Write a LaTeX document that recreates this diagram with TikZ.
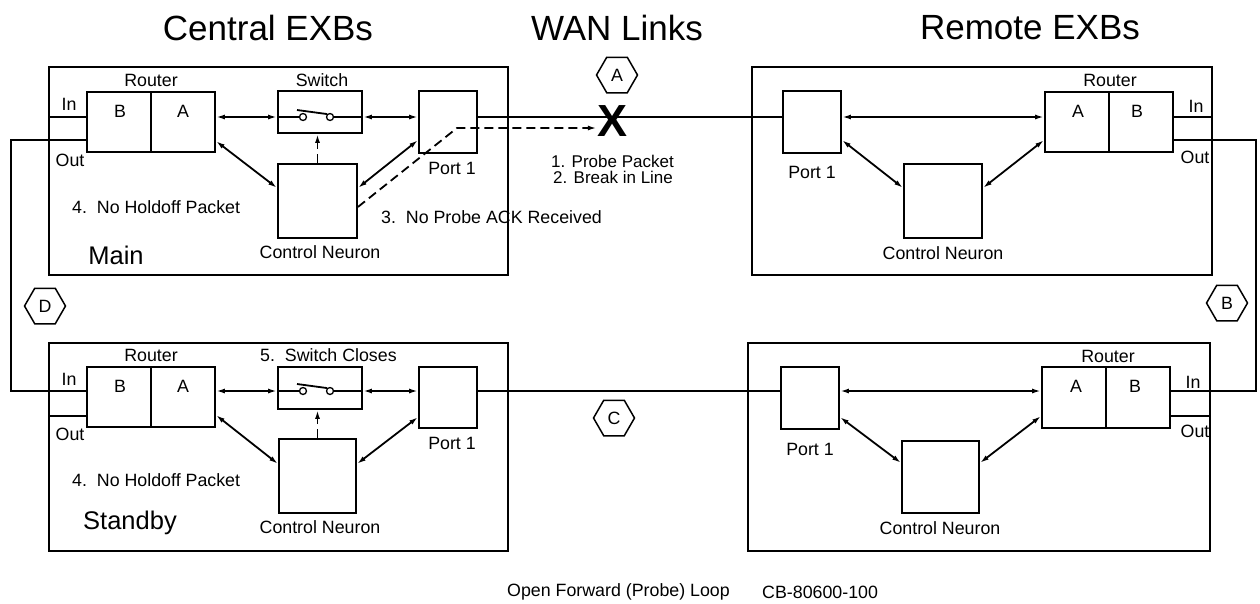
\documentclass[tikz,border=0pt]{standalone}
\usepackage{fontspec}
\setmainfont{Liberation Sans}
\usetikzlibrary{arrows.meta,shapes.geometric,calc}
\begin{document}
\begin{tikzpicture}[x=1pt,y=-1pt,
  lbl/.style={font=\fontsize{17.8}{20}\selectfont, inner sep=0pt},
  ttl/.style={font=\fontsize{35}{38}\selectfont, inner sep=0pt},
  nm/.style={font=\fontsize{25.5}{28}\selectfont, inner sep=0pt},
  blk/.style={draw, line width=1.8pt, inner sep=0pt, rectangle},
  conn/.style={line width=1.8pt},
  tip/.tip={Latex[length=9pt,width=5pt]},
  dbl/.style={line width=1.8pt, tip-tip},
  dsh/.style={line width=1.8pt, dash pattern=on 9pt off 5pt},
  hex/.style={draw, line width=1.5pt, regular polygon, regular polygon sides=6,
    minimum size=41pt, inner sep=0pt, font=\fontsize{17.8}{20}\selectfont},
  contact/.style={circle, draw, fill=white, line width=1.3pt, minimum size=7pt, inner sep=0pt}]
\useasboundingbox (0,0) rectangle (1260,603);
\coordinate (Ltop) at (0,117);
\coordinate (Lbot) at (0,391);
\coordinate (Otop) at (0,140);
\coordinate (Obot) at (0,416);
\coordinate (busL) at (11,0);
\coordinate (busR) at (1256,0);

% titles
\node[ttl] (tC) at (268,28) {Central EXBs};
\node[ttl] (tW) at (617,28) {WAN Links};
\node[ttl] (tR) at (1030,28) {Remote EXBs};

% ---------------- Main (central top)
\node[blk, minimum width=459pt, minimum height=208pt] (mMain) at (278.5,171) {};
\node[blk, minimum width=128pt, minimum height=60pt] (mR) at (151,122) {};
\draw[conn] (mR.north) -- (mR.south);
\node[blk, minimum width=84pt, minimum height=42pt] (mS) at (320,112) {};
\node[blk, minimum width=58pt, minimum height=62pt] (mP) at (448,122) {};
\node[blk, minimum width=79pt, minimum height=74pt] (mC) at (317.5,201) {};
\node[lbl] (mRl) at (151,80) {Router};
\node[lbl] (mB) at (120,111) {B};
\node[lbl] (mA) at (183,111) {A};
\node[lbl] (mSl) at (322,80) {Switch};
\node[lbl] (mPl) at (452,168) {Port 1};
\node[lbl] (mCl) at (320,252) {Control Neuron};
\node[lbl] (mIn) at (69,104) {In};
\node[lbl] (mOut) at (70,160) {Out};
\node[lbl, anchor=west] (mH) at (72,207) {4.\ \ No Holdoff Packet};
\node[nm] (mName) at (116,255) {Main};
\node[contact] (mS1) at (303,117) {};
\node[contact] (mS2) at (330,117) {};
\draw[conn] (mS.west |- Ltop) -- (mS1.west);
\draw[conn] (mS2.east) -- (mS.east |- Ltop);
\draw[conn] ($(mS1)+(-6,-7)$) -- (mS2.north west);
\draw[dbl] (mR.east |- Ltop) -- (mS.west |- Ltop);
\draw[dbl] (mS.east |- Ltop) -- (mP.west |- Ltop);
\draw[dbl] ([yshift=-19pt]mR.east) -- ([yshift=13pt]mC.west);
\draw[dbl] ([yshift=13pt]mC.east) -- ([yshift=-18pt]mP.west);
\draw[dsh, -tip] (mC.north) -- (mC.north |- mS.south);
\draw[conn] (mMain.west |- Ltop) -- (mR.west |- Ltop);

% ---------------- Standby (central bottom)
\node[blk, minimum width=459pt, minimum height=208pt] (sMain) at (278.5,447) {};
\node[blk, minimum width=128pt, minimum height=60pt] (sR) at (151,397) {};
\draw[conn] (sR.north) -- (sR.south);
\node[blk, minimum width=84pt, minimum height=42pt] (sS) at (320,388) {};
\node[blk, minimum width=58pt, minimum height=61pt] (sP) at (448,397.5) {};
\node[blk, minimum width=77pt, minimum height=74pt] (sC) at (317.5,476) {};
\node[lbl] (sRl) at (151,355) {Router};
\node[lbl] (sB) at (120,386) {B};
\node[lbl] (sA) at (183,386) {A};
\node[lbl, anchor=west] (sSl) at (260,355) {5.\ \ Switch Closes};
\node[lbl] (sPl) at (452,443) {Port 1};
\node[lbl] (sCl) at (320,527) {Control Neuron};
\node[lbl] (sIn) at (69,379) {In};
\node[lbl] (sOut) at (70,434) {Out};
\node[lbl, anchor=west] (sH) at (72,480) {4.\ \ No Holdoff Packet};
\node[nm] (sName) at (130,523) {Standby};
\node[contact] (sS1) at (303,391) {};
\node[contact] (sS2) at (330,391) {};
\draw[conn] (sS.west |- Lbot) -- (sS1.west);
\draw[conn] (sS2.east) -- (sS.east |- Lbot);
\draw[conn] ($(sS1)+(-6,-7)$) -- (sS2.north west);
\draw[dbl] (sR.east |- Lbot) -- (sS.west |- Lbot);
\draw[dbl] (sS.east |- Lbot) -- (sP.west |- Lbot);
\draw[dbl] ([yshift=-18pt]sR.east) -- ([yshift=12pt]sC.west);
\draw[dbl] ([yshift=12pt]sC.east) -- ([yshift=-19.5pt]sP.west);
\draw[dsh, -tip] (sC.north) -- (sC.north |- sS.south);
\draw[conn] (sMain.west |- Obot) -- (sR.west |- Obot);

% ---------------- Remote top
\node[blk, minimum width=460pt, minimum height=208pt] (rMain) at (982,171) {};
\node[blk, minimum width=58pt, minimum height=62pt] (rP) at (812,122) {};
\node[blk, minimum width=78pt, minimum height=74pt] (rC) at (943,201) {};
\node[blk, minimum width=128pt, minimum height=60pt] (rR) at (1109,122) {};
\draw[conn] (rR.north) -- (rR.south);
\node[lbl] (rRl) at (1110,80) {Router};
\node[lbl] (rA) at (1078,111) {A};
\node[lbl] (rB) at (1137,111) {B};
\node[lbl] (rPl) at (812,172) {Port 1};
\node[lbl] (rCl) at (943,253) {Control Neuron};
\node[lbl] (rIn) at (1196,106) {In};
\node[lbl] (rOut) at (1195,157) {Out};
\draw[dbl] (rP.east |- Ltop) -- (rR.west |- Ltop);
\draw[dbl] ([yshift=-18pt]rP.east) -- ([yshift=13pt]rC.west);
\draw[dbl] ([yshift=13pt]rC.east) -- ([yshift=-18pt]rR.west);
\draw[conn] (rR.east |- Ltop) -- (rMain.east |- Ltop);

% ---------------- Remote bottom
\node[blk, minimum width=462pt, minimum height=208pt] (qMain) at (979,447) {};
\node[blk, minimum width=58pt, minimum height=62pt] (qP) at (810,398) {};
\node[blk, minimum width=77pt, minimum height=72pt] (qC) at (940.5,477) {};
\node[blk, minimum width=128pt, minimum height=61pt] (qR) at (1106,397.5) {};
\draw[conn] (qR.north) -- (qR.south);
\node[lbl] (qRl) at (1108,356) {Router};
\node[lbl] (qA) at (1076,386) {A};
\node[lbl] (qB) at (1135,386) {B};
\node[lbl] (qPl) at (810,449) {Port 1};
\node[lbl] (qCl) at (940,528) {Control Neuron};
\node[lbl] (qIn) at (1193,382) {In};
\node[lbl] (qOut) at (1195,431) {Out};
\draw[dbl] (qP.east |- Lbot) -- (qR.west |- Lbot);
\draw[dbl] ([yshift=-19pt]qP.east) -- ([yshift=14pt]qC.west);
\draw[dbl] ([yshift=14pt]qC.east) -- ([yshift=-18.5pt]qR.west);
\draw[conn] (qR.east |- Obot) -- (qMain.east |- Obot);

% ---------------- WAN links and loops
\draw[conn] (mP.east |- Ltop) -- (rP.west |- Ltop);
\draw[conn] (sP.east |- Lbot) -- (qP.west |- Lbot);
\draw[conn] (mR.west |- Otop) -- (busL |- Otop) -- (busL |- Lbot) -- (sR.west |- Lbot);
\draw[conn] (rR.east |- Otop) -- (busR |- Otop) -- (busR |- Lbot) -- (qR.east |- Lbot);

\node[font=\fontsize{45}{45}\selectfont\bfseries, inner sep=0pt] (X) at (612,121) {X};
\coordinate (pturn) at (457,128);
\draw[dsh, -tip] ([yshift=-6pt]mC.east) -- (pturn) -- (pturn -| X.west);

\node[hex] (hA) at (617,75) {A};
\node[hex] (hB) at (1227,303) {B};
\node[hex] (hC) at (614,418) {C};
\node[hex] (hD) at (45,306) {D};

\node[font=\fontsize{17}{16}\selectfont, inner sep=0pt, align=left, anchor=north west] (n12) at (551,155) {1. Probe Packet\\\hspace{2pt}2. Break in Line};
\node[lbl, anchor=west] (n3) at (381,217) {3.\ \ No Probe ACK Received};

\node[lbl, anchor=west] (f1) at (507,592) {Open Forward (Probe) Loop};
\node[lbl, anchor=west] (f2) at (762,592) {CB-80600-100};
\end{tikzpicture}
\end{document}
